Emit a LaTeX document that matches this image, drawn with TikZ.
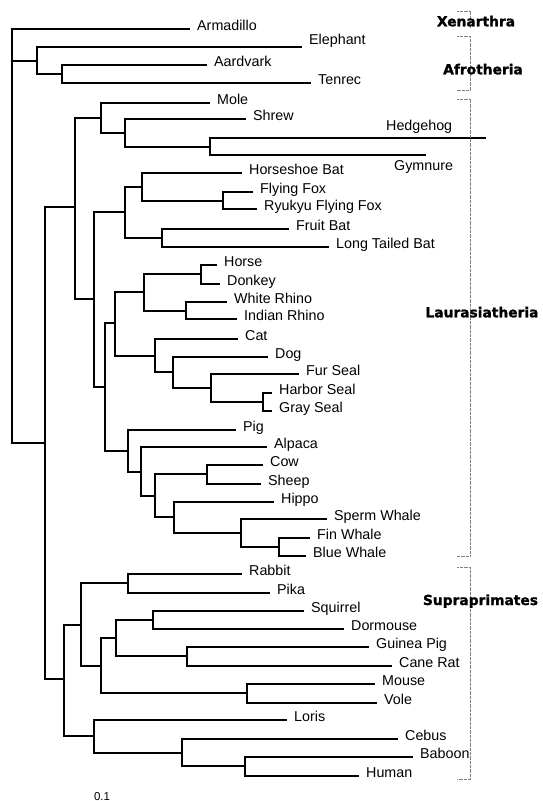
\documentclass[tikz,border=0pt]{standalone}
\usepackage{fontspec}
\setmainfont{Liberation Sans}
\newfontfamily\cladefont{DejaVu Sans}[BoldFeatures={FakeBold=1.3}]
\tikzset{
  branch/.style={line width=2pt},
  taxon/.style={anchor=base west, inner sep=0pt, font=\fontsize{14.3}{16}\selectfont},
  leaf/.style={taxon, xshift=7pt, yshift=-1.5pt},
  clade/.style={anchor=base, inner sep=0pt, font=\cladefont\bfseries\fontsize{13.8}{16}\selectfont},
  bracket/.style={gray, line width=0.6pt, dash pattern=on 0.6pt off 0.7pt},
}
\begin{document}
\begin{tikzpicture}[x=1pt,y=-1pt]
        \useasboundingbox (0,0) rectangle (543,801);
        % inner nodes
        \coordinate (root) at (12,61);
        \coordinate (afro) at (37,61);
        \coordinate (aardten) at (62,74);
        \coordinate (boreo) at (45,443);
        \coordinate (laur) at (75,207);
        \coordinate (eulip) at (101,118);
        \coordinate (shrewn) at (125,133);
        \coordinate (hedgen) at (210,147);
        \coordinate (scrot) at (94,299);
        \coordinate (chiro) at (125,212);
        \coordinate (rhinol) at (142,187);
        \coordinate (foxn) at (223,201);
        \coordinate (fruitn) at (162,238);
        \coordinate (fereu) at (105,387);
        \coordinate (perfer) at (115,323);
        \coordinate (periss) at (144,292);
        \coordinate (equus) at (201,274);
        \coordinate (rhino) at (186,311);
        \coordinate (carniv) at (155,356);
        \coordinate (canif) at (173,372);
        \coordinate (pinni) at (211,388);
        \coordinate (phoca) at (263,402);
        \coordinate (cetart) at (128,451);
        \coordinate (camel) at (141,472);
        \coordinate (cetrum) at (155,496);
        \coordinate (rumin) at (207,474);
        \coordinate (whippo) at (174,517);
        \coordinate (ceta) at (241,533);
        \coordinate (myst) at (279,547);
        \coordinate (euarch) at (64,679);
        \coordinate (glires) at (81,625);
        \coordinate (lago) at (128,583);
        \coordinate (rodent) at (101,666);
        \coordinate (sqhys) at (116,638);
        \coordinate (sciur) at (153,620);
        \coordinate (hystr) at (187,656);
        \coordinate (muroid) at (247,693);
        \coordinate (primat) at (94,736);
        \coordinate (anthro) at (182,753);
        \coordinate (catarr) at (245,766);
        % tips
        \coordinate (arma) at (190,29);
        \coordinate (eleph) at (302,47);
        \coordinate (aard) at (207,65);
        \coordinate (tenrec) at (311,83);
        \coordinate (mole) at (210,103);
        \coordinate (shrew) at (246,119);
        \coordinate (hedge) at (486,138);
        \coordinate (gymn) at (426,155);
        \coordinate (hshoe) at (242,173);
        \coordinate (ffox) at (253,192);
        \coordinate (ryuk) at (257,209);
        \coordinate (fbat) at (289,229);
        \coordinate (ltbat) at (329,247);
        \coordinate (horse) at (217,265);
        \coordinate (donk) at (220,284);
        \coordinate (wrhino) at (227,302);
        \coordinate (irhino) at (237,319);
        \coordinate (cat) at (238,339);
        \coordinate (dog) at (268,357);
        \coordinate (fseal) at (299,374);
        \coordinate (hseal) at (272,393);
        \coordinate (gseal) at (272,411);
        \coordinate (pig) at (236,430);
        \coordinate (alpaca) at (267,447);
        \coordinate (cow) at (263,465);
        \coordinate (sheep) at (261,484);
        \coordinate (hippo) at (274,502);
        \coordinate (sperm) at (327,519);
        \coordinate (fin) at (310,538);
        \coordinate (blue) at (306,556);
        \coordinate (rabbit) at (242,574);
        \coordinate (pika) at (270,593);
        \coordinate (squir) at (304,611);
        \coordinate (dorm) at (344,629);
        \coordinate (guinea) at (369,647);
        \coordinate (cane) at (392,666);
        \coordinate (mouse) at (375,684);
        \coordinate (vole) at (377,703);
        \coordinate (loris) at (287,720);
        \coordinate (cebus) at (398,739);
        \coordinate (baboon) at (413,757);
        \coordinate (human) at (359,776);
        % branches
        \draw[branch] (root) |- (arma) (root) |- (afro) (root) |- (boreo);
        \draw[branch] (afro) |- (eleph) (afro) |- (aardten);
        \draw[branch] (aardten) |- (aard) (aardten) |- (tenrec);
        \draw[branch] (boreo) |- (laur) (boreo) |- (euarch);
        \draw[branch] (laur) |- (eulip) (laur) |- (scrot);
        \draw[branch] (eulip) |- (mole) (eulip) |- (shrewn);
        \draw[branch] (shrewn) |- (shrew) (shrewn) |- (hedgen);
        \draw[branch] (hedgen) |- (hedge) (hedgen) |- (gymn);
        \draw[branch] (scrot) |- (chiro) (scrot) |- (fereu);
        \draw[branch] (chiro) |- (rhinol) (chiro) |- (fruitn);
        \draw[branch] (rhinol) |- (hshoe) (rhinol) |- (foxn);
        \draw[branch] (foxn) |- (ffox) (foxn) |- (ryuk);
        \draw[branch] (fruitn) |- (fbat) (fruitn) |- (ltbat);
        \draw[branch] (fereu) |- (perfer) (fereu) |- (cetart);
        \draw[branch] (perfer) |- (periss) (perfer) |- (carniv);
        \draw[branch] (periss) |- (equus) (periss) |- (rhino);
        \draw[branch] (equus) |- (horse) (equus) |- (donk);
        \draw[branch] (rhino) |- (wrhino) (rhino) |- (irhino);
        \draw[branch] (carniv) |- (cat) (carniv) |- (canif);
        \draw[branch] (canif) |- (dog) (canif) |- (pinni);
        \draw[branch] (pinni) |- (fseal) (pinni) |- (phoca);
        \draw[branch] (phoca) |- (hseal) (phoca) |- (gseal);
        \draw[branch] (cetart) |- (pig) (cetart) |- (camel);
        \draw[branch] (camel) |- (alpaca) (camel) |- (cetrum);
        \draw[branch] (cetrum) |- (rumin) (cetrum) |- (whippo);
        \draw[branch] (rumin) |- (cow) (rumin) |- (sheep);
        \draw[branch] (whippo) |- (hippo) (whippo) |- (ceta);
        \draw[branch] (ceta) |- (sperm) (ceta) |- (myst);
        \draw[branch] (myst) |- (fin) (myst) |- (blue);
        \draw[branch] (euarch) |- (glires) (euarch) |- (primat);
        \draw[branch] (glires) |- (lago) (glires) |- (rodent);
        \draw[branch] (lago) |- (rabbit) (lago) |- (pika);
        \draw[branch] (rodent) |- (sqhys) (rodent) |- (muroid);
        \draw[branch] (sqhys) |- (sciur) (sqhys) |- (hystr);
        \draw[branch] (sciur) |- (squir) (sciur) |- (dorm);
        \draw[branch] (hystr) |- (guinea) (hystr) |- (cane);
        \draw[branch] (muroid) |- (mouse) (muroid) |- (vole);
        \draw[branch] (primat) |- (loris) (primat) |- (anthro);
        \draw[branch] (anthro) |- (cebus) (anthro) |- (catarr);
        \draw[branch] (catarr) |- (baboon) (catarr) |- (human);
        % names
        \node[leaf] (tarma) at (arma) {Armadillo};
        \node[taxon, xshift=7pt, yshift=3pt] (teleph) at (eleph) {Elephant};
        \node[leaf] (taard) at (aard) {Aardvark};
        \node[leaf] (ttenrec) at (tenrec) {Tenrec};
        \node[leaf] (tmole) at (mole) {Mole};
        \node[leaf] (tshrew) at (shrew) {Shrew};
        \node[taxon] (thedge) at (386,130.7) {Hedgehog};
        \node[taxon] (tgymn) at (394,170) {Gymnure};
        \node[leaf] (thshoe) at (hshoe) {Horseshoe Bat};
        \node[leaf] (tffox) at (ffox) {Flying Fox};
        \node[leaf] (tryuk) at (ryuk) {Ryukyu Flying Fox};
        \node[leaf] (tfbat) at (fbat) {Fruit Bat};
        \node[leaf] (tltbat) at (ltbat) {Long Tailed Bat};
        \node[leaf] (thorse) at (horse) {Horse};
        \node[leaf] (tdonk) at (donk) {Donkey};
        \node[leaf] (twrhino) at (wrhino) {White Rhino};
        \node[leaf] (tirhino) at (irhino) {Indian Rhino};
        \node[leaf] (tcat) at (cat) {Cat};
        \node[leaf] (tdog) at (dog) {Dog};
        \node[leaf] (tfseal) at (fseal) {Fur Seal};
        \node[leaf] (thseal) at (hseal) {Harbor Seal};
        \node[leaf] (tgseal) at (gseal) {Gray Seal};
        \node[leaf] (tpig) at (pig) {Pig};
        \node[leaf] (talpaca) at (alpaca) {Alpaca};
        \node[leaf] (tcow) at (cow) {Cow};
        \node[leaf] (tsheep) at (sheep) {Sheep};
        \node[leaf] (thippo) at (hippo) {Hippo};
        \node[leaf] (tsperm) at (sperm) {Sperm Whale};
        \node[leaf] (tfin) at (fin) {Fin Whale};
        \node[leaf] (tblue) at (blue) {Blue Whale};
        \node[leaf] (trabbit) at (rabbit) {Rabbit};
        \node[leaf] (tpika) at (pika) {Pika};
        \node[leaf] (tsquir) at (squir) {Squirrel};
        \node[leaf] (tdorm) at (dorm) {Dormouse};
        \node[leaf] (tguinea) at (guinea) {Guinea Pig};
        \node[leaf] (tcane) at (cane) {Cane Rat};
        \node[leaf] (tmouse) at (mouse) {Mouse};
        \node[leaf] (tvole) at (vole) {Vole};
        \node[leaf] (tloris) at (loris) {Loris};
        \node[leaf] (tcebus) at (cebus) {Cebus};
        \node[leaf] (tbaboon) at (baboon) {Baboon};
        \node[leaf] (thuman) at (human) {Human};
        % groups
        \draw[bracket] (457,11) -- (470.7,11) -- (470.7,28);
        \draw[bracket] (457,36.7) -- (470.7,36.7) -- (470.7,90) -- (457,90);
        \draw[bracket] (457,99) -- (470.7,99) -- (470.7,556.7) -- (457,556.7);
        \draw[bracket] (457,567.7) -- (470.7,567.7) -- (470.7,779) -- (457,779);
        \node[clade] (xen) at (476,26.3) {Xenarthra};
        \node[clade] (afrot) at (483,74.3) {Afrotheria};
        \node[clade] (laura) at (482,317.3) {Laurasiatheria};
        \node[clade] (supra) at (480.5,605) {Supraprimates};
        \node[anchor=base, inner sep=0pt, font=\fontsize{11.5}{13}\selectfont] (scale) at (102,800) {0.1};
\end{tikzpicture}
\end{document}
